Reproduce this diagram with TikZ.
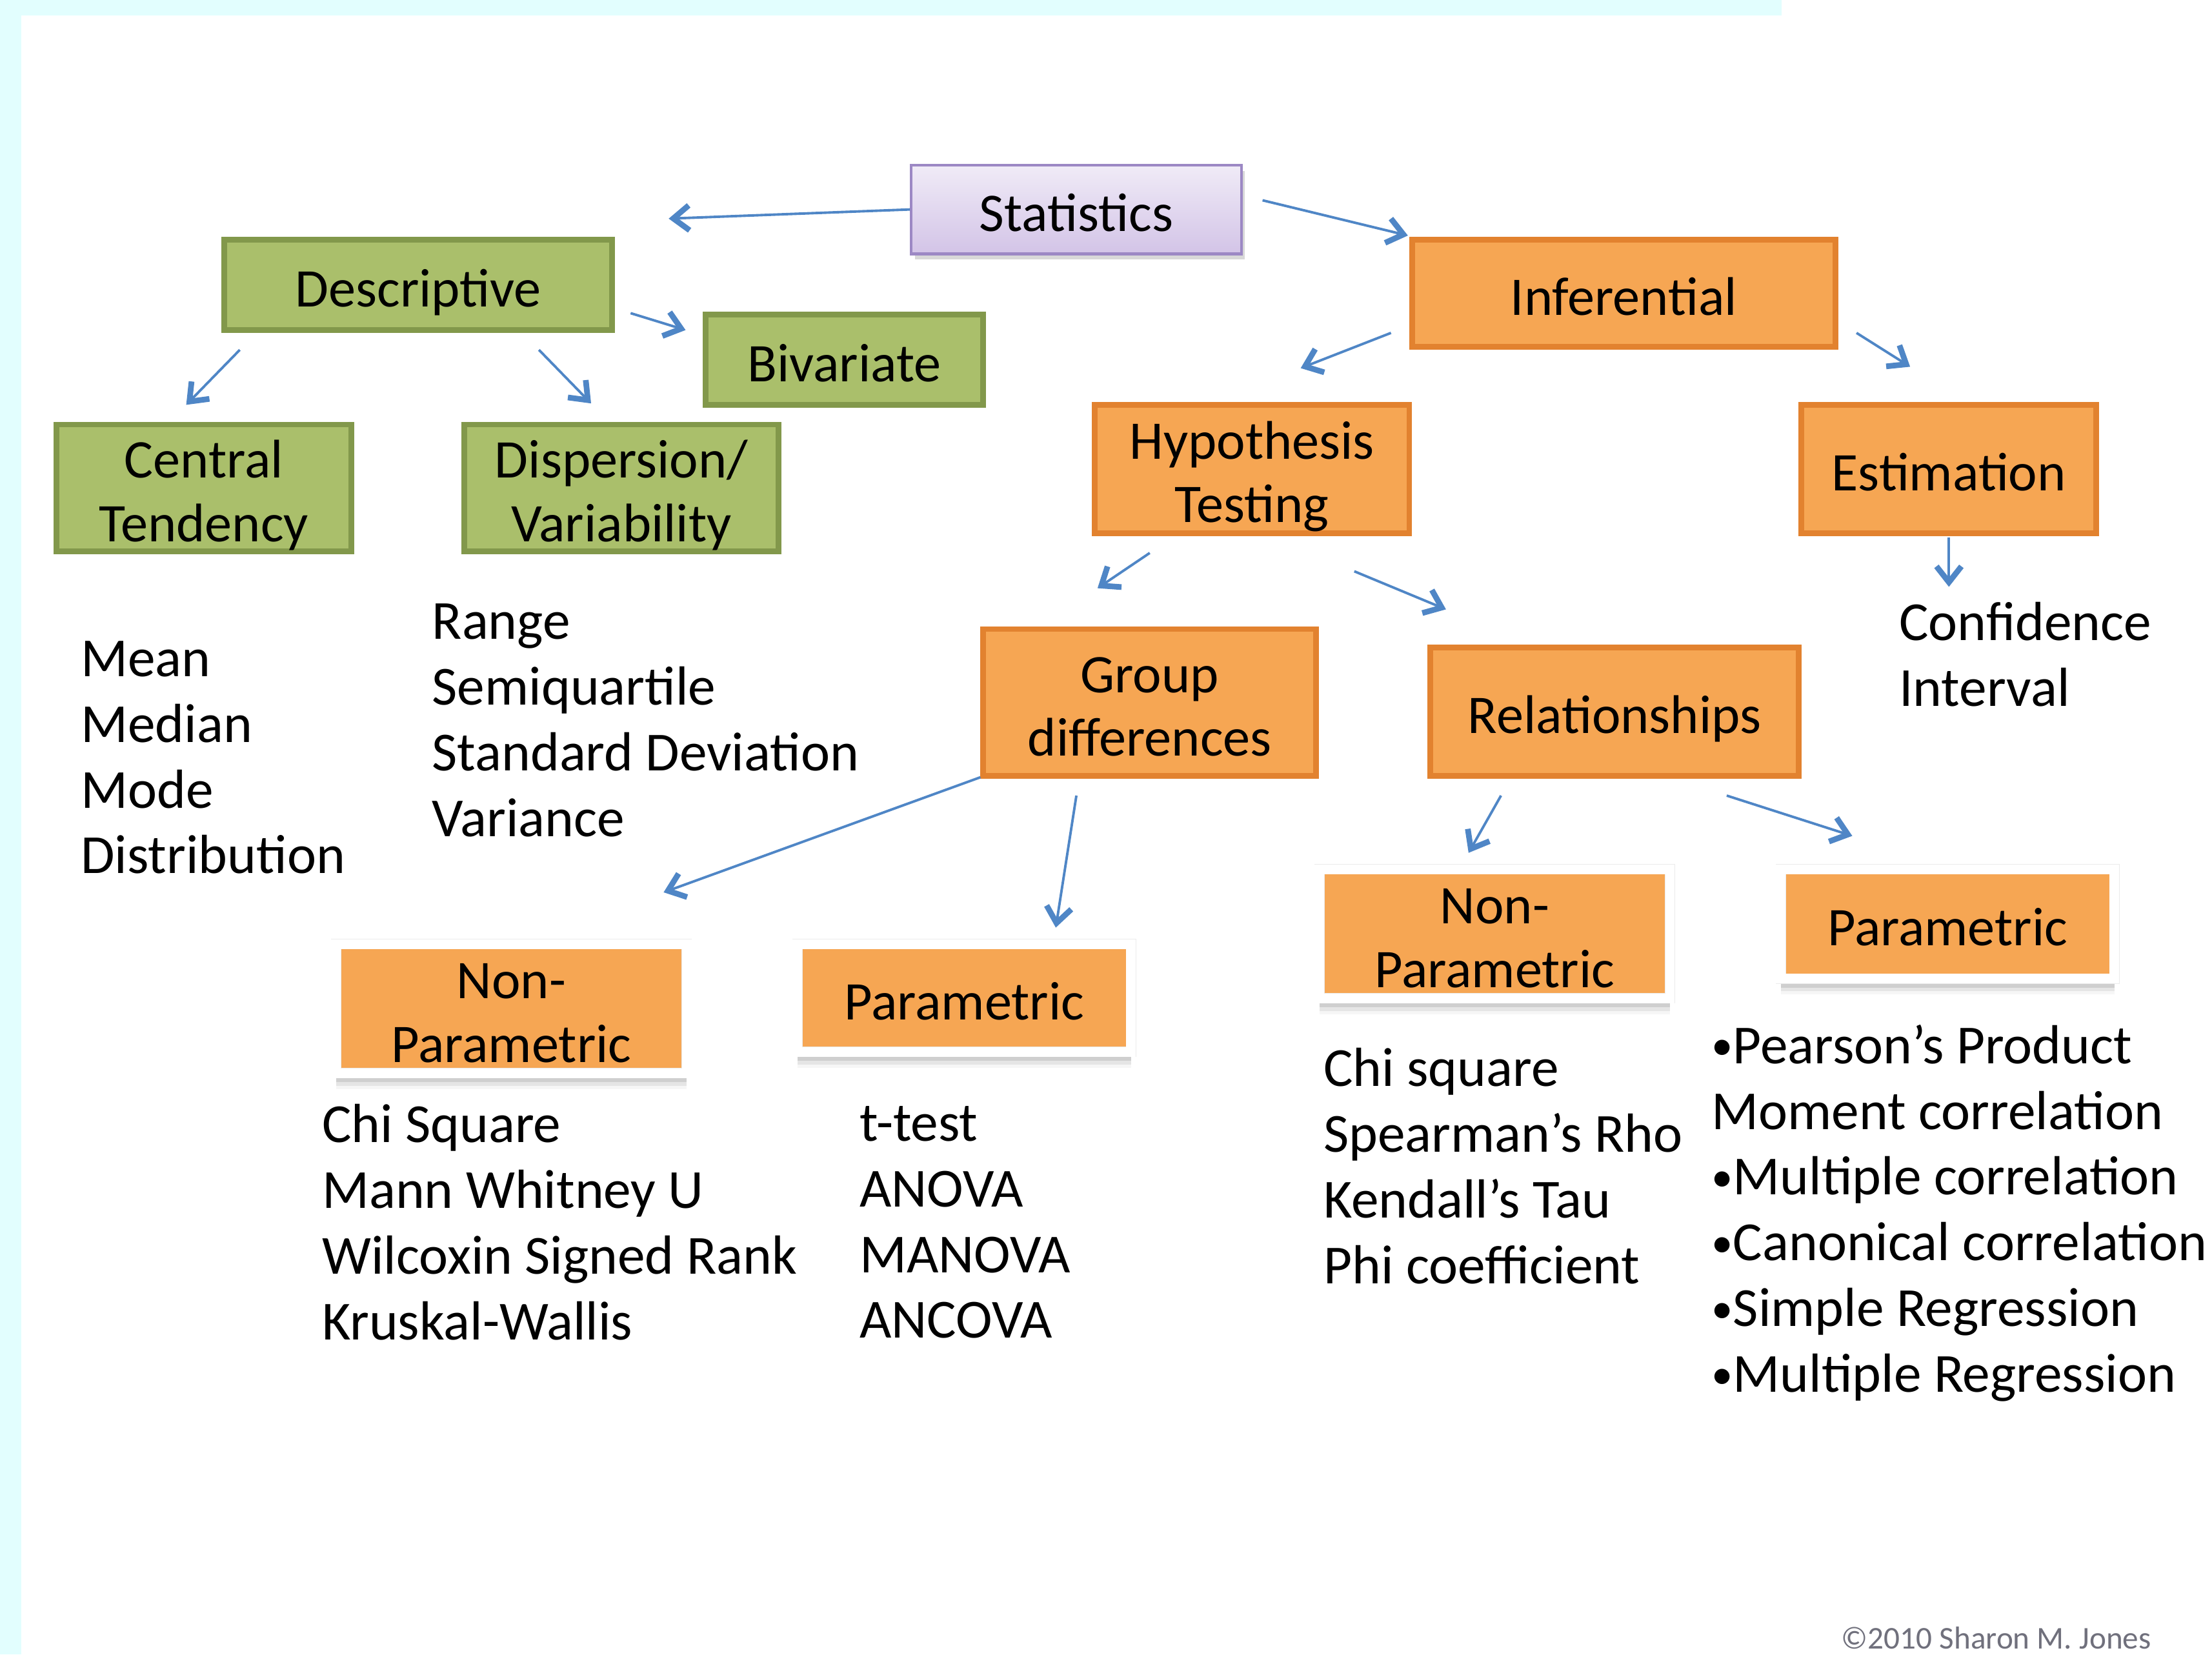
\documentclass[tikz,border=0pt]{standalone}
\usepackage{fontspec}
\setmainfont{Carlito}
\usetikzlibrary{arrows.meta,shadows}

\newcommand{\unitpx}{0.02186cm}
\newcommand{\boxtxt}{\fontsize{24}{28}\selectfont}
\newcommand{\listtxt}{\fontsize{24.3}{29}\selectfont}
\newcommand{\blt}{\raisebox{1.5pt}{\fontsize{19}{19}\selectfont•}}

\definecolor{bandcyan}{HTML}{E2FEFE}
\definecolor{gfill}{HTML}{AABF6B}
\definecolor{gborder}{HTML}{82984B}
\definecolor{ofill}{HTML}{F6A653}
\definecolor{oborder}{HTML}{E2822F}
\definecolor{stattop}{HTML}{F0EBF7}
\definecolor{statbot}{HTML}{D3C4E7}
\definecolor{statborder}{HTML}{9C88C4}
\definecolor{linkblue}{HTML}{4F86C6}
\definecolor{copygrey}{HTML}{70707C}

\begin{document}
\begin{tikzpicture}[x=\unitpx, y=-\unitpx, >={Straight Barb[length=7pt,width=11pt,line width=2.5pt]}, boxsize/.style 2 args={minimum width=#1*\unitpx, minimum height=#2*\unitpx}, oneline/.style={text height=22pt, text depth=2.8pt}, twoline/.style={text height=50pt, text depth=2.8pt}, statbox/.style={draw=statborder, top color=stattop, bottom color=statbot, line width=1.2pt, font=\boxtxt, align=center, inner sep=0pt, oneline, drop shadow={shadow xshift=1.5pt, shadow yshift=-2.5pt, opacity=.3}}, gbox/.style={draw=gborder, fill=gfill, line width=2.5pt, font=\boxtxt, align=center, inner sep=0pt, oneline}, obox/.style={draw=oborder, fill=ofill, line width=2.5pt, font=\boxtxt, align=center, inner sep=0pt, oneline}, card/.style={draw=black!8, double=white, double distance=4.2pt, line width=0.2pt, fill=ofill, font=\boxtxt, align=center, inner sep=0pt, oneline, drop shadow={shadow xshift=0pt, shadow yshift=-4pt, opacity=.22}, drop shadow={shadow xshift=0pt, shadow yshift=-5.5pt, opacity=.14}, drop shadow={shadow xshift=0pt, shadow yshift=-7pt, opacity=.07}}, listtext/.style={anchor=west, align=left, font=\listtxt, inner sep=0pt}, link/.style={every edge/.style={draw=linkblue, line width=1.1pt, ->}}]
				% page and frame
				\fill[white] (0,0) rectangle (1568,1173);
				\fill[bandcyan] (0,0) rectangle (1263,11);
				\fill[bandcyan] (0,0) rectangle (15,1173);
				\useasboundingbox (0,0) rectangle (1568,1173);

				\node[statbox, boxsize={234}{63}] 	(stat)  at (763,148.5)    {Statistics};
				\node[gbox, boxsize={275}{64}]    	(desc)  at (296.5,202)    {Descriptive};
				\node[gbox, boxsize={197}{64}]    	(biv)   at (598.5,255)    {Bivariate};
				\node[gbox, twoline, boxsize={209}{90}]	(cent)  at (144.5,346)    {Central\\Tendency};
				\node[gbox, twoline, boxsize={223}{90}]	(disp)  at (440.5,346)    {Dispersion/\\Variability};
				\node[obox, boxsize={300}{76}]    	(infer) at (1151,208)     {Inferential};
				\node[obox, twoline, boxsize={223}{91}]	(hypo)  at (887.5,332.5)  {Hypothesis\\Testing};
				\node[obox, boxsize={209}{91}]    	(est)   at (1381.5,332.5) {Estimation};
				\node[obox, twoline, boxsize={236}{104}]	(group) at (815,498)      {Group\\differences};
				\node[obox, boxsize={261}{91}]    	(rel)   at (1144.5,504.5) {Relationships};
				\node[card, twoline, boxsize={248.5}{91.5}]	(np1)   at (362.5,715)    {Non-\\Parametric};
				\node[card, boxsize={236.5}{76.5}]	(p1)    at (683.5,707.5)  {Parametric};
				\node[card, twoline, boxsize={248.5}{91.5}]	(np2)   at (1059.5,662)   {Non-\\Parametric};
				\node[card, boxsize={236.5}{77.5}]	(p2)    at (1380.5,655)   {Parametric};

				% lists under the boxes
				\node[listtext] (ctlist)  at (57,537)    {Mean\\Median\\Mode\\Distribution};
				\node[listtext] (displist) at (306,510.5) {Range\\Semiquartile\\Standard Deviation\\Variance};
				\node[listtext] (conf)    at (1346,464)  {Confidence\\Interval};
				\node[listtext] (nplist1) at (228,866.5) {Chi Square\\Mann Whitney U\\Wilcoxin Signed Rank\\Kruskal-Wallis};
				\node[listtext] (plist1)  at (609,866.5) {t-test\\ANOVA\\MANOVA\\ANCOVA};
				\node[listtext] (nplist2) at (938,826.5) {Chi square\\Spearman’s Rho\\Kendall’s Tau\\Phi coefficient};
				\node[listtext] (plist2)  at (1213,860)  {\blt Pearson’s Product\\Moment correlation\\\blt Multiple correlation\\\blt Canonical correlation\\\blt Simple Regression\\\blt Multiple Regression};

				\node[anchor=west, inner sep=0pt, text=copygrey, font=\fontsize{14}{16}\selectfont] (copy) at (1305,1161) {©2010 Sharon M. Jones};

				\path[link] (stat.west)                          edge ([shift={(38,-13)}]desc.north east)
						  ([shift={(14,-6.5)}]stat.east)     edge ([shift={(-1,-1)}]infer.north west)
						  ([shift={(11,-14)}]desc.south east) edge ([shift={(-12,13)}]biv.north west)
						  ([shift={(13,12)}]desc.south west)  edge ([shift={(-12.5,-12)}]cent.north)
						  ([shift={(-54,12)}]desc.south east) edge ([shift={(-21.5,-13)}]disp.north)
						  ([shift={(-13,-12)}]infer.south west) edge ([shift={(34.5,-24)}]hypo.north)
						  ([shift={(13,-12)}]infer.south east) edge ([shift={(-27.5,-25)}]est.north)
						  ([shift={(0,1)}]est.south)          edge ([shift={(0,36)}]est.south)
						  ([shift={(-72.5,12)}]hypo.south)    edge ([shift={(-37,-27)}]group.north)
						  ([shift={(-41,25)}]hypo.south east) edge ([shift={(13,-25)}]rel.north west)
						  ([shift={(0,-1)}]group.south west)  edge ([shift={(-16.5,-36.5)}]np1.north east)
						  ([shift={(-52,12)}]group.south)     edge ([shift={(-53.5,-11.5)}]p1.north east)
						  ([shift={(-80.5,12)}]rel.south)     edge ([shift={(-18.5,-11.5)}]np2.north)
						  ([shift={(79.5,12)}]rel.south)      edge ([shift={(-67.5,-23.5)}]p2.north);

			\end{tikzpicture}
\end{document}
